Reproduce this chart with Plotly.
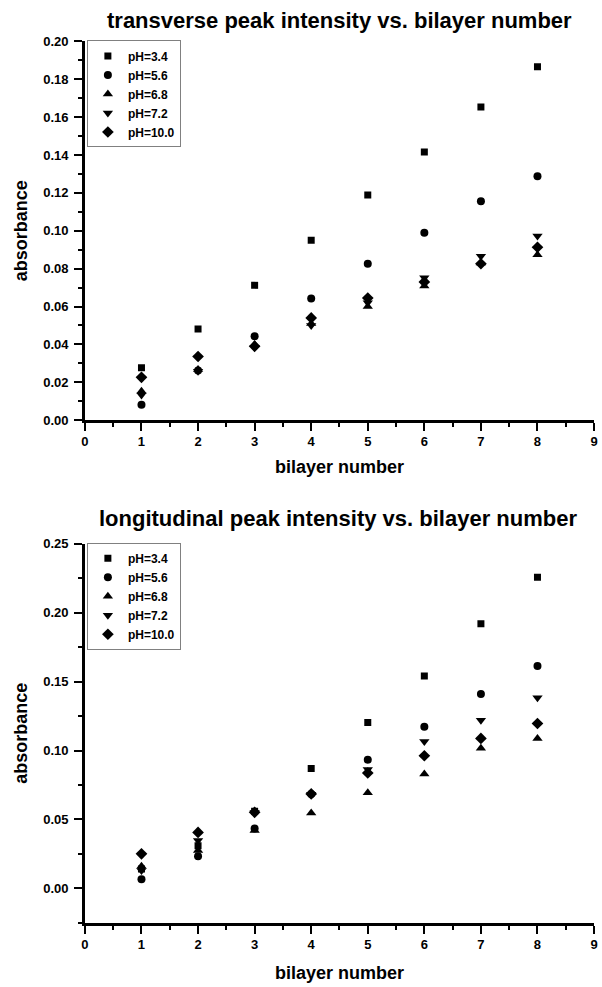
import plotly.graph_objects as go

bilayers = [1, 2, 3, 4, 5, 6, 7, 8]
labels = ["pH=3.4", "pH=5.6", "pH=6.8", "pH=7.2", "pH=10.0"]
symbols = ["square", "circle", "triangle-up", "triangle-down", "diamond"]
sizes = [7, 8, 9, 9, 9]

# transverse peak intensity
trans_ph34 = [0.0277, 0.0481, 0.0712, 0.0950, 0.1189, 0.1416, 0.1654, 0.1867]
trans_ph56 = [0.0081, 0.0262, 0.0443, 0.0643, 0.0826, 0.0990, 0.1156, 0.1288]
trans_ph68 = [0.0153, 0.0268, 0.0400, 0.0510, 0.0600, 0.0709, 0.0830, 0.0873]
trans_ph72 = [0.0133, 0.0258, 0.0385, 0.0500, 0.0620, 0.0752, 0.0865, 0.0972]
trans_ph100 = [0.0226, 0.0336, 0.0390, 0.0540, 0.0645, 0.0730, 0.0826, 0.0913]

# longitudinal peak intensity
long_ph34 = [0.0140, 0.0310, 0.0560, 0.0870, 0.1203, 0.1540, 0.1919, 0.2256]
long_ph56 = [0.0066, 0.0234, 0.0435, 0.0685, 0.0933, 0.1172, 0.1410, 0.1613]
long_ph68 = [0.0160, 0.0275, 0.0420, 0.0546, 0.0694, 0.0830, 0.1017, 0.1088]
long_ph72 = [0.0130, 0.0347, 0.0550, 0.0682, 0.0863, 0.1065, 0.1220, 0.1383]
long_ph100 = [0.0251, 0.0406, 0.0552, 0.0685, 0.0837, 0.0962, 0.1088, 0.1196]

trans = [trans_ph34, trans_ph56, trans_ph68, trans_ph72, trans_ph100]
longi = [long_ph34, long_ph56, long_ph68, long_ph72, long_ph100]

W, H = 602, 987
FONT = "Liberation Sans, Arial, sans-serif"

fig = go.Figure()
for i in range(5):
    fig.add_trace(go.Scatter(
        x=bilayers, y=trans[i], mode="markers", name=labels[i],
        marker=dict(symbol=symbols[i], size=sizes[i], color="black"),
        xaxis="x", yaxis="y", legend="legend"))
for i in range(5):
    fig.add_trace(go.Scatter(
        x=bilayers, y=longi[i], mode="markers", name=labels[i],
        marker=dict(symbol=symbols[i], size=sizes[i], color="black"),
        xaxis="x2", yaxis="y2", legend="legend2"))

def px_x(p):
    return p / W

def px_y(p):
    return (H - p) / H

axis_common = dict(
    showline=True, linecolor="black", linewidth=2.5, mirror=False,
    ticks="outside", ticklen=8, tickwidth=2, tickcolor="black",
    showgrid=False, zeroline=False,
    tickfont=dict(family=FONT, size=13, color="black", weight="bold"),
)
title_font = dict(family=FONT, size=18, weight="bold", color="black")
xminor = dict(ticks="outside", ticklen=4, dtick=0.5, tickwidth=2, tickcolor="black")

xdom = [px_x(82), px_x(598)]

fig.update_layout(
    width=W, height=H,
    margin=dict(l=0, r=0, t=0, b=0),
    paper_bgcolor="white", plot_bgcolor="white",
    font=dict(family=FONT, color="black"),
    xaxis=dict(domain=xdom, range=[0, 9], dtick=1, anchor="y", minor=xminor,
               title=dict(text="bilayer number", standoff=12, font=title_font),
               **axis_common),
    yaxis=dict(domain=[px_y(419.5), px_y(35)], range=[0, 0.2], dtick=0.02, anchor="x",
               tickformat=".2f", ticklabelstandoff=3,
               minor=dict(ticks="outside", ticklen=4, dtick=0.01, tickwidth=2, tickcolor="black"),
               title=dict(text="absorbance", standoff=11, font=title_font),
               **axis_common),
    xaxis2=dict(domain=xdom, range=[0, 9], dtick=1, anchor="y2", minor=xminor,
                title=dict(text="bilayer number", standoff=16, font=title_font),
                **axis_common),
    yaxis2=dict(domain=[px_y(930), px_y(545)], range=[-0.025, 0.25], tick0=0, dtick=0.05,
                anchor="x2", tickformat=".2f", ticklabelstandoff=3,
                minor=dict(ticks="outside", ticklen=4, dtick=0.025, tick0=0, tickwidth=2, tickcolor="black"),
                title=dict(text="absorbance", standoff=11, font=title_font),
                **axis_common),
    legend=dict(x=px_x(84), y=px_y(34), xanchor="left", yanchor="top",
                bgcolor="white", bordercolor="#808080", borderwidth=1,
                font=dict(family=FONT, size=12, weight="bold"), tracegroupgap=0),
    legend2=dict(x=px_x(84), y=px_y(544), xanchor="left", yanchor="top",
                 bgcolor="white", bordercolor="#808080", borderwidth=1,
                 font=dict(family=FONT, size=12, weight="bold"), tracegroupgap=0),
    annotations=[
        dict(text="transverse peak intensity vs. bilayer number", x=px_x(340), y=px_y(14),
             xref="paper", yref="paper", showarrow=False, xanchor="center", yanchor="middle",
             font=dict(family=FONT, size=22, weight="bold", color="black")),
        dict(text="longitudinal peak intensity vs. bilayer number", x=px_x(338), y=px_y(519),
             xref="paper", yref="paper", showarrow=False, xanchor="center", yanchor="middle",
             font=dict(family=FONT, size=22, weight="bold", color="black")),
    ],
)

fig.write_html("out.html")
